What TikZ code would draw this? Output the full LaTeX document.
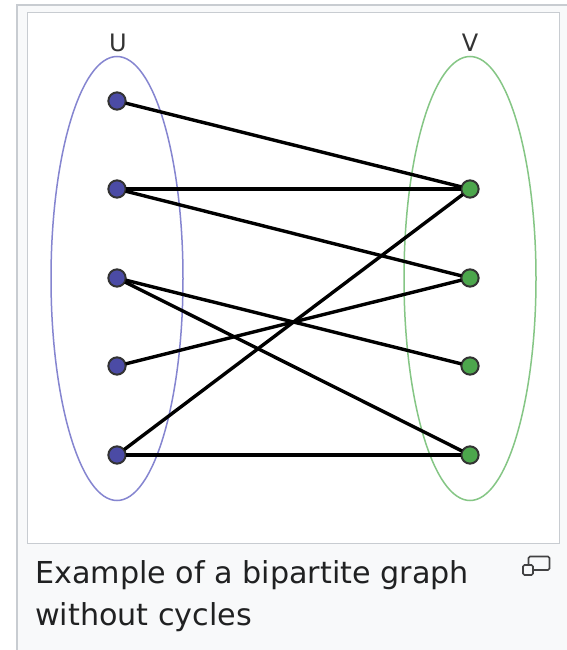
\documentclass[tikz,border=0pt]{standalone}
\usepackage{fontspec}
\setmainfont{DejaVu Sans}
\definecolor{framegray}{HTML}{C8CCD1}
\definecolor{capbg}{HTML}{F8F9FA}
\definecolor{txt}{HTML}{202122}
\definecolor{ublue}{HTML}{4B4BA5}
\definecolor{vgreen}{HTML}{4CA64C}
\definecolor{uell}{HTML}{8585D0}
\definecolor{vell}{HTML}{85C685}
\tikzset{
  unode/.style={circle,fill=ublue,draw=black!80,line width=1.3pt,minimum size=18pt,inner sep=0pt},
  vnode/.style={circle,fill=vgreen,draw=black!80,line width=1.3pt,minimum size=18pt,inner sep=0pt},
  edge/.style={line width=3.4pt,black},
  setlabel/.style={font=\fontsize{24}{26}\selectfont,text=black!80,inner sep=0pt},
  caption/.style={font=\fontsize{30.2}{42}\selectfont,text=txt,inner sep=0pt,anchor=base west}
}
\begin{document}
\begin{tikzpicture}[x=1pt,y=-1pt]
\useasboundingbox (0,0) rectangle (566,650);
% frames
\draw[framegray,fill=capbg,line width=1.5pt] (17,5) rectangle (620,700);
\draw[framegray,fill=white,line width=1pt] (27,13) rectangle (559,543);
% ellipses
\draw[uell,line width=1.5pt] (117,278.5) ellipse [x radius=66,y radius=222];
\draw[vell,line width=1.5pt] (470,278.5) ellipse [x radius=66,y radius=222];
% labels
\node[setlabel,anchor=base] (lu) at (118,52) {U};
\node[setlabel,anchor=base] (lv) at (470,52) {V};
% nodes
\node[unode] (u1) at (117,101) {};
\node[unode] (u2) at (117,189) {};
\node[unode] (u3) at (117,278) {};
\node[unode] (u4) at (117,366) {};
\node[unode] (u5) at (117,455) {};
\node[vnode] (v1) at (470,189) {};
\node[vnode] (v2) at (470,278) {};
\node[vnode] (v3) at (470,366) {};
\node[vnode] (v4) at (470,455) {};
% edges
\draw[edge] (u1.center) -- (v1.center);
\draw[edge] (u2.center) -- (v1.center);
\draw[edge] (u2.center) -- (v2.center);
\draw[edge] (u3.center) -- (v3.center);
\draw[edge] (u3.center) -- (v4.center);
\draw[edge] (u4.center) -- (v2.center);
\draw[edge] (u5.center) -- (v1.center);
\draw[edge] (u5.center) -- (v4.center);
% redraw nodes on top
\foreach \n in {u1,u2,u3,u4,u5}{\fill[ublue] (\n) circle (8.3);\draw[black!80,line width=1.3pt] (\n) circle (8.3);}
\foreach \n in {v1,v2,v3,v4}{\fill[vgreen] (\n) circle (8.3);\draw[black!80,line width=1.3pt] (\n) circle (8.3);}
% caption
\node[caption] (c1) at (35,583) {Example of a bipartite graph};
\node[caption] (c2) at (35,625) {without cycles};
% enlarge icon
\draw[txt!85,line width=1.6pt,rounded corners=1.5pt] (528.5,556.5) rectangle (549.5,570);
\draw[txt!85,fill=capbg,line width=1.6pt,rounded corners=1.5pt] (523,565) rectangle (533,575);
\end{tikzpicture}
\end{document}
